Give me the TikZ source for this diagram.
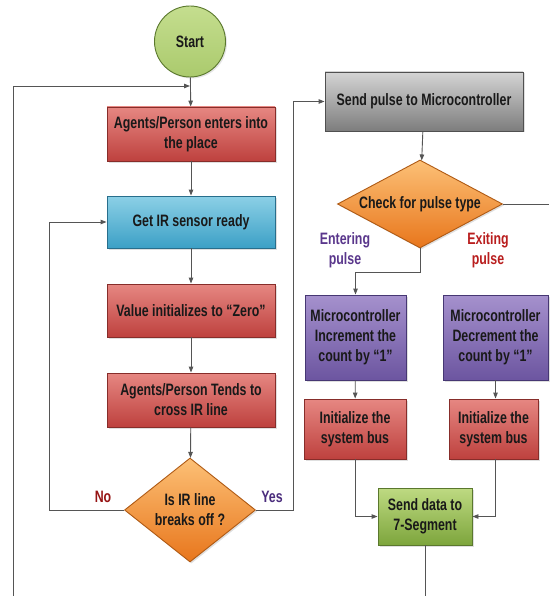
\documentclass[tikz,border=0pt]{standalone}
\usepackage{fontspec}
\setmainfont[FakeStretch=0.75]{Liberation Sans}
\usetikzlibrary{shapes.geometric,arrows.meta,shadows}
\definecolor{redT}{RGB}{230,135,130}
\definecolor{redB}{RGB}{190,65,62}
\definecolor{redD}{RGB}{135,45,42}
\definecolor{bluT}{RGB}{140,208,230}
\definecolor{bluB}{RGB}{60,160,198}
\definecolor{bluD}{RGB}{40,110,140}
\definecolor{gryT}{RGB}{212,212,212}
\definecolor{gryB}{RGB}{125,125,125}
\definecolor{gryD}{RGB}{80,80,80}
\definecolor{purT}{RGB}{165,145,205}
\definecolor{purB}{RGB}{108,85,160}
\definecolor{purD}{RGB}{70,55,115}
\definecolor{grnT}{RGB}{190,218,130}
\definecolor{grnB}{RGB}{125,165,60}
\definecolor{grnD}{RGB}{90,120,45}
\definecolor{orgT}{RGB}{252,192,118}
\definecolor{orgB}{RGB}{232,118,28}
\definecolor{orgD}{RGB}{175,90,20}
\definecolor{lineC}{RGB}{85,85,85}
\definecolor{noC}{RGB}{150,20,20}
\definecolor{yesC}{RGB}{75,45,125}
\definecolor{entC}{RGB}{90,55,140}
\definecolor{exC}{RGB}{185,30,30}
\begin{document}
\begin{tikzpicture}[x=1pt,y=-1pt,
  every node/.style={font=\bfseries\fontsize{16.5}{20}\selectfont, text=black!90, align=center, inner sep=0pt},
  box/.style={rectangle, draw=#1D, line width=0.9pt, top color=#1T, bottom color=#1B, drop shadow={opacity=0.25, shadow xshift=1.5pt, shadow yshift=-1.5pt}},
  dia/.style={diamond, draw=orgD, line width=0.9pt, top color=orgT, bottom color=orgB, drop shadow={opacity=0.25, shadow xshift=1.5pt, shadow yshift=-1.5pt}},
  arr/.style={draw=lineC, line width=0.9pt, -{Triangle[length=6pt,width=4.5pt]}},
  ln/.style={draw=lineC, line width=0.9pt},
  lbl/.style={font=\bfseries\fontsize{16.5}{20}\selectfont}
]
\useasboundingbox (0,0) rectangle (549,596);
\fill[white] (0,0) rectangle (549,596);

\node[circle, draw=grnD, line width=0.9pt, top color=grnT!90!white, bottom color=grnT!70!grnB, minimum size=71pt, drop shadow={opacity=0.2, shadow xshift=1.5pt, shadow yshift=-1.5pt}] (start) at (190,41.5) {Start};

\node[box=red, minimum width=168pt, minimum height=54pt] (b1) at (191,134) {Agents/Person enters into\\the place};
\node[box=blu, minimum width=168pt, minimum height=52pt] (b2) at (191,222) {Get IR sensor ready};
\node[box=red, minimum width=168pt, minimum height=53pt] (b3) at (191,310.5) {Value initializes to “Zero”};
\node[box=red, minimum width=168pt, minimum height=54pt] (b4) at (191,400) {Agents/Person Tends to\\cross IR line};
\node[dia, aspect=1.26, minimum width=131pt, minimum height=104pt] (d1) at (190,510) {Is IR line\\breaks off ?};

\node[box=gry, minimum width=198pt, minimum height=59pt] (send) at (424,101.5) {Send pulse to Microcontroller};
\node[dia, aspect=1.875, minimum width=165pt, minimum height=88pt] (d2) at (420,204) {Check for pulse type};

\node[box=pur, minimum width=101pt, minimum height=85pt] (inc) at (355.5,337.5) {Microcontroller\\Increment the\\count by “1”};
\node[box=pur, minimum width=105pt, minimum height=85pt] (dec) at (495.5,337.5) {Microcontroller\\Decrement the\\count by “1”};
\node[box=red, minimum width=102pt, minimum height=60pt] (il) at (355,429) {Initialize the\\system bus};
\node[box=red, minimum width=89pt, minimum height=60pt] (ir) at (493.5,429) {Initialize the\\system bus};
\node[box=grn, minimum width=94pt, minimum height=57pt] (seg) at (425,516.5) {Send data to\\7-Segment};

\node[lbl, text=noC] (no) at (103,497) {No};
\node[lbl, text=yesC] (yes) at (272,497) {Yes};
\node[lbl, text=entC] (ent) at (345,250) {Entering\\pulse};
\node[lbl, text=exC] (exi) at (488,250) {Exiting\\pulse};

\coordinate (lb) at (13,596);
\coordinate (lt) at (13,86);
\coordinate (jn) at (190,86);
\coordinate (rE) at (549,204);
\coordinate (bot) at (425,596);

\draw[arr] (lb) -- (lt) -- (jn);
\draw[arr] (start) -- (b1);
\draw[arr] (b1) -- (b2);
\draw[arr] (b2) -- (b3);
\draw[arr] (b3) -- (b4);
\draw[arr] (b4) -- (d1);
\draw[arr] (d1.west) -- ++(-75,0) |- (b2.west);
\draw[arr] (d1.east) -- ++(37,0) |- (send.west);
\draw[arr] (send) -- (d2);
\draw[ln] (d2.east) -- (rE);
\draw[arr] (d2.south) -- ++(0,24) -| (inc.north);
\draw[arr] (inc) -- (il);
\draw[arr] (dec.south) -- (dec.south |- ir.north);
\draw[arr] (il.south) |- (seg.west);
\draw[arr] (dec.south |- ir.south) |- (seg.east);
\draw[ln] (seg) -- (bot);
\end{tikzpicture}
\end{document}
